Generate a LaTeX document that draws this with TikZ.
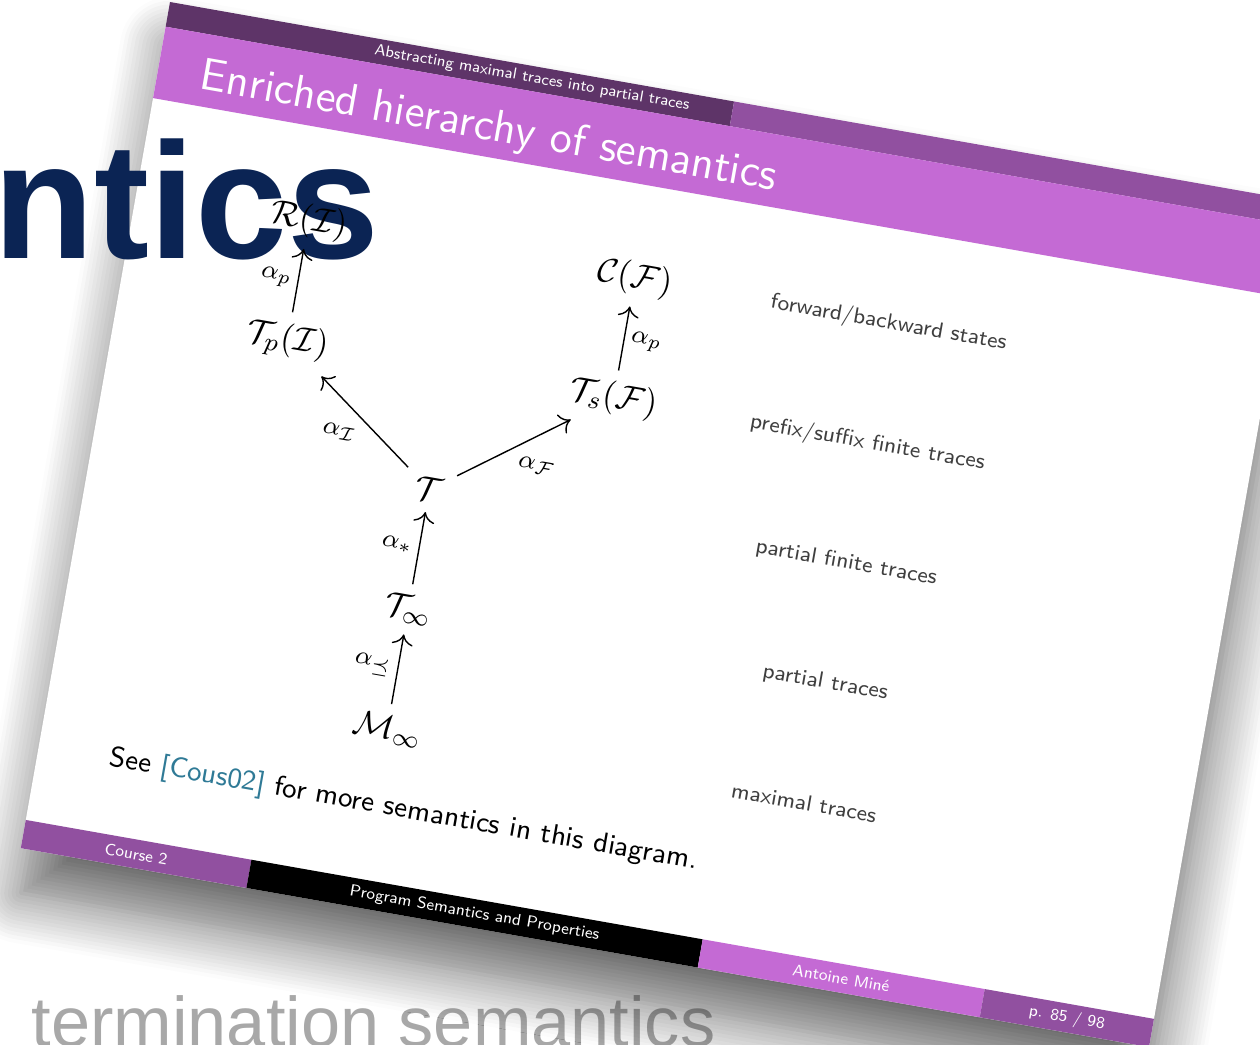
\documentclass[tikz,border=0pt]{standalone}
\usepackage{fontspec}
\newfontfamily\bannerfont{Liberation Sans}
\usetikzlibrary{positioning,arrows.meta,shadows.blur}
\definecolor{HeadDark}{HTML}{5E3468}
\definecolor{HeadMid}{HTML}{9150A0}
\definecolor{TitlePink}{HTML}{C46AD4}
\definecolor{BannerNavy}{HTML}{0B2454}
\definecolor{BannerGray}{HTML}{A8A8A8}
\definecolor{CiteBlue}{HTML}{2F7A96}
\definecolor{NoteGray}{HTML}{3F3F3F}

\begin{document}
\begin{tikzpicture}[
  slide/.style={shift={(1.70,-0.02)}, rotate=-10, scale=0.895, transform shape},
  semnode/.style={font=\fontsize{11}{13}\selectfont},
  alab/.style={font=\fontsize{8.5}{10}\selectfont, inner sep=2pt},
  note/.style={font=\sffamily\fontsize{7}{9}\selectfont, text=NoteGray},
  foot/.style={font=\sffamily\fontsize{5.2}{6}\selectfont, text=white, anchor=center},
  arrow/.style={->, >={Computer Modern Rightarrow[length=3pt, width=6pt]}, thin}
]
  \useasboundingbox (0,0) rectangle (12.6,-10.45);
  \clip (0,0) rectangle (12.6,-10.45);

  \node[anchor=base west, inner sep=0, text=BannerGray, font=\bannerfont\fontsize{20}{24}\selectfont] (subword) at (0.31,-10.47) {termination semantics};

  % slide page, header and footer bars
  \begin{scope}[slide]
    \fill[white, blur shadow={shadow xshift=0cm, shadow yshift=-0.45cm, shadow blur radius=0.5cm, shadow opacity=60, shadow blur steps=14}] (0,0) rectangle (12.8,-9.6);
    \fill[HeadDark] (0,0) rectangle (6.4,-0.28);
    \fill[HeadMid] (6.4,0) rectangle (12.8,-0.28);
    \fill[TitlePink] (0,-0.28) rectangle (12.8,-1.09);
    \fill[HeadMid] (0,-9.28) rectangle (2.56,-9.6);
    \fill[black] (2.56,-9.28) rectangle (7.68,-9.6);
    \fill[TitlePink] (7.68,-9.28) rectangle (10.88,-9.6);
    \fill[HeadMid] (10.88,-9.28) rectangle (12.8,-9.6);
  \end{scope}

  \node[anchor=base east, inner sep=0, text=BannerNavy, font=\bannerfont\bfseries\fontsize{47}{50}\selectfont] (bigword) at (3.80,-2.58) {ntics};

  \begin{scope}[slide, node distance=1.36cm and 1.85cm, on grid]
    \node[foot, anchor=east, font=\sffamily\fontsize{5}{6}\selectfont] (sect) at (6.04,-0.14) {Abstracting maximal traces into partial traces};
    \node[anchor=base west, inner sep=0, text=white, font=\sffamily\fontsize{14.4}{17}\selectfont] (title) at (0.48,-0.90) {Enriched hierarchy of semantics};

    \node[semnode] (minf) at (3.80,-7.58) {$\mathcal{M}_\infty$};
    \node[semnode, above=of minf] (tinf) {$\mathcal{T}_\infty$};
    \node[semnode, above=of tinf] (tall) {$\mathcal{T}$};
    \node[semnode, above left=of tall] (tpre) {$\mathcal{T}_p(\mathcal{I})$};
    \node[semnode, above right=of tall] (tsuf) {$\mathcal{T}_s(\mathcal{F})$};
    \node[semnode, above=of tpre] (rch) {$\mathcal{R}(\mathcal{I})$};
    \node[semnode, above=of tsuf] (cnt) {$\mathcal{C}(\mathcal{F})$};

    \node[note, right=2.88cm of cnt] (lstate) {forward/backward states};
    \node[note, right=2.88cm of tsuf] (lfinite) {prefix/suffix finite traces};
    \node[note, right=4.73cm of tall] (lpartfin) {partial finite traces};
    \node[note, right=4.73cm of tinf] (lpart) {partial traces};
    \node[note, right=4.73cm of minf] (lmax) {maximal traces};

    \draw[arrow] (tpre) -- node[alab, left] {$\alpha_p$} (rch);
    \draw[arrow] (tall) -- node[alab, below left] {$\alpha_{\mathcal{I}}$} (tpre);
    \draw[arrow] (tall) -- node[alab, below right] {$\alpha_{\mathcal{F}}$} (tsuf);
    \draw[arrow] (tsuf) -- node[alab, right] {$\alpha_p$} (cnt);
    \draw[arrow] (tinf) -- node[alab, left] {$\alpha_*$} (tall);
    \draw[arrow] (minf) -- node[alab, left] {$\alpha_{\preceq}$} (tinf);

    \node[anchor=base west, inner sep=0, font=\sffamily\fontsize{9}{11}\selectfont] (seeref) at (0.80,-8.52) {See \textcolor{CiteBlue}{[Cous02]} for more semantics in this diagram.};

    \node[foot] (course) at (1.28,-9.44) {Course 2};
    \node[foot] (ctitle) at (5.12,-9.44) {Program Semantics and Properties};
    \node[foot] (author) at (9.28,-9.44) {Antoine Miné};
    \node[foot] (page) at (11.84,-9.44) {p. 85 / 98};
  \end{scope}
\end{tikzpicture}
\end{document}
